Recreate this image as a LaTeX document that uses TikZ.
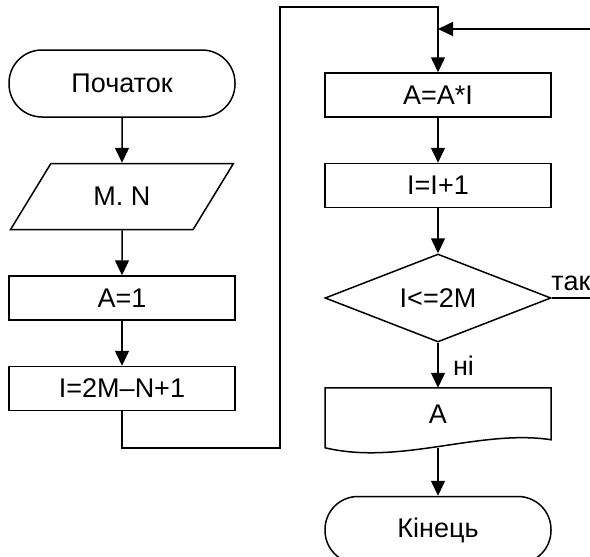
\documentclass[tikz,border=0pt]{standalone}
\usepackage{fontspec}
\setmainfont{Liberation Sans}
\usetikzlibrary{positioning,shapes.geometric,arrows.meta}

\begin{document}
\begin{tikzpicture}[-,>={Triangle[length=15pt,width=14pt]},auto,node distance=45pt,line width=1.5pt,
    every node/.style={font=\fontsize{27}{32}\selectfont},
    main node/.style={draw,minimum width=226pt,minimum height=44pt,inner sep=0pt},
    term node/.style={main node,rounded corners=33pt,minimum height=67pt},
    io node/.style={main node,trapezium,trapezium stretches=true,trapezium left angle=49,trapezium right angle=131,minimum width=225pt,minimum height=66pt},
    cond node/.style={main node,diamond,aspect=2.56,minimum height=88pt},
    out node/.style={main node,draw=none,outer sep=0pt,minimum height=52pt}]

                    \useasboundingbox (0,0) rectangle (590pt,-557pt);

                    \node[term node]  (1) at (122pt,-83.5pt) {Початок};
                    \node[io node]    (2) [below = of 1] {M. N};
                    \node[main node]  (3) [below = of 2] {A=1};
                    \node[main node]  (4) [below = of 3] {I=2M–N+1};

                    \node[main node]  (5) at (438pt,-95pt) {A=A*I};
                    \node[main node]  (6) [below = of 5] {I=I+1};
                    \node[cond node]  (7) [below = of 6] {I<=2M};
                    \node[out node]   (8) [below = of 7] {A};
                    \node[term node]  (9) [below = 56pt of 8] {Кінець};

                    \draw (8.north west) -- (8.north east) -- (8.south east)
                      .. controls +(-71pt,11pt) and +(75pt,-18pt) .. ([yshift=-8pt]8.south west) -- cycle;

                    \coordinate (a) at (280pt,-448pt);
                    \coordinate (b) at (280pt,-7pt);
                    \coordinate (c) at (590pt,-29pt);

                    \draw[->] (1) to (2);
                    \draw[->] (2) to (3);
                    \draw[->] (3) to (4);
                    \draw[->] (4) |- (a) -- (b) -| (5);
                    \draw[->] (c) -- (c -| 5);
                    \draw[->] (5) to (6);
                    \draw[->] (6) to (7);
                    \draw (7.east) -- node[above, inner sep=6pt] {так} (7.east -| c);
                    \draw[->] (7) to node[right, xshift=11pt] {ні} (8);
                    \draw[->] ([yshift=-8pt]8.south) to (9);

                    ;
                \end{tikzpicture}
\end{document}
